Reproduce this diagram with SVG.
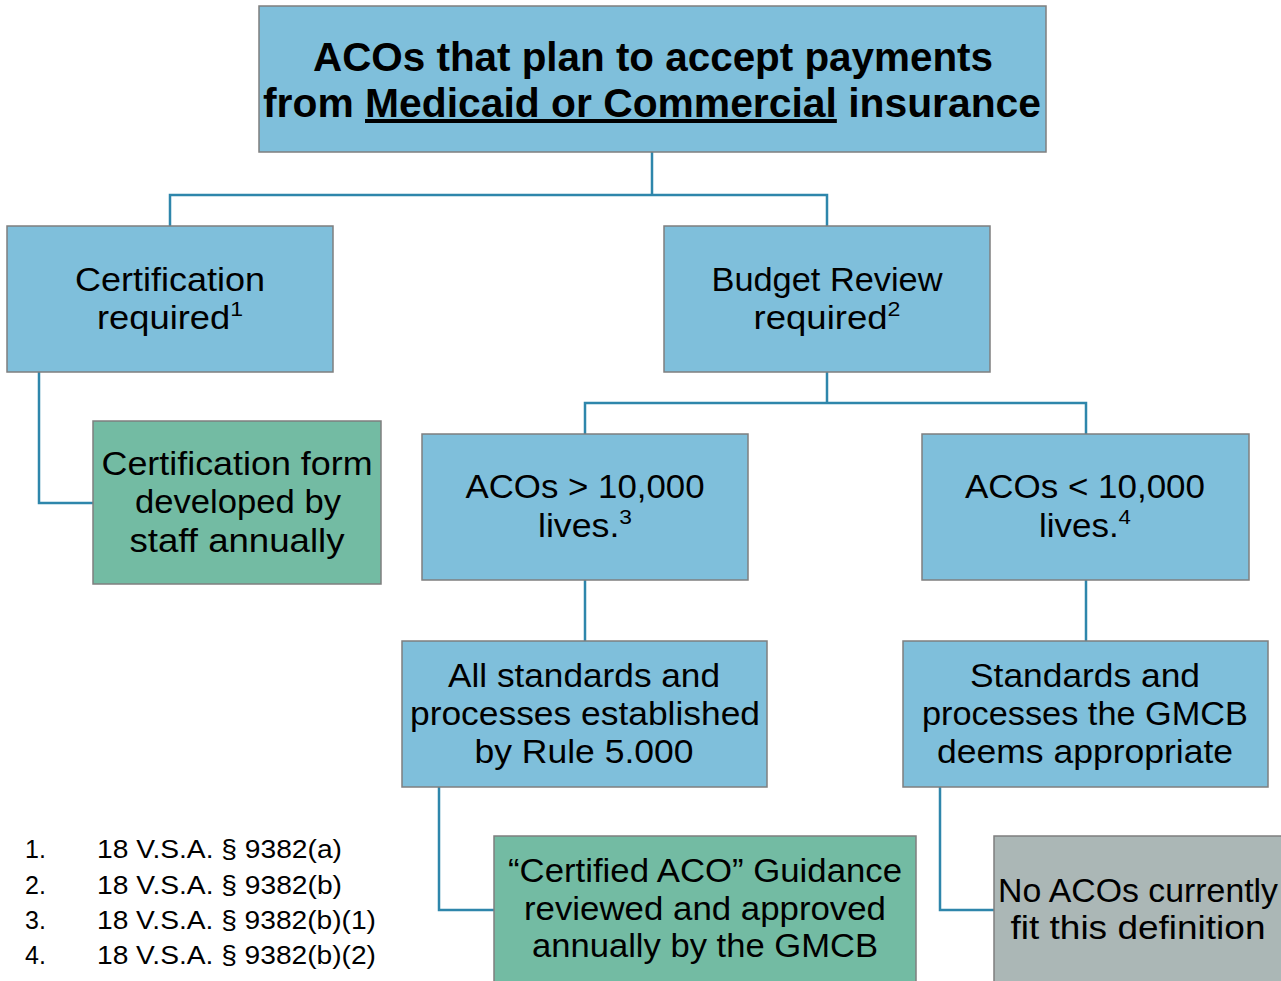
<svg xmlns="http://www.w3.org/2000/svg" width="1281" height="981" viewBox="0 0 1281 981">
<style>
.box{stroke:#7f7f7f;stroke-width:1.5}
.blue{fill:#7fbfdb}
.green{fill:#73bba3}
.gray{fill:#abb7b6}
.t{font-family:"Liberation Sans",Arial,sans-serif;font-size:33px;fill:#000;text-anchor:middle}
.title{font-family:"Liberation Sans",Arial,sans-serif;font-size:40px;font-weight:bold;fill:#000;text-anchor:middle}
.fn{font-family:"Liberation Sans",Arial,sans-serif;font-size:25px;fill:#000}
.sup{font-size:21px}
.conn{fill:none;stroke:#2e86ab;stroke-width:2.5}
</style>
<rect width="1281" height="981" fill="#fff"/>
<g id="connectors" class="conn">
<path d="M652,152 V195"/>
<path d="M170,226 V195 H827 V226"/>
<path d="M39,372 V503 H93"/>
<path d="M827,372 V403"/>
<path d="M585,434 V403 H1086 V434"/>
<path d="M585,580 V641"/>
<path d="M1086,580 V641"/>
<path d="M439,787 V910 H494"/>
<path d="M940,787 V910 H994"/>
</g>
<g id="root">
<rect class="box blue" x="259" y="6" width="787" height="146"/>
<text class="title" x="653" y="71" textLength="680" lengthAdjust="spacingAndGlyphs">ACOs that plan to accept payments</text>
<text class="title" x="652" y="117" textLength="778" lengthAdjust="spacingAndGlyphs">from <tspan text-decoration="underline">Medicaid or Commercial</tspan> insurance</text>
</g>
<g id="certification">
<rect class="box blue" x="7" y="226" width="326" height="146"/>
<text class="t" x="170" y="291" textLength="190" lengthAdjust="spacingAndGlyphs">Certification</text>
<text class="t" x="170" y="329" textLength="146" lengthAdjust="spacingAndGlyphs">required<tspan class="sup" dy="-13">1</tspan></text>
</g>
<g id="budget">
<rect class="box blue" x="664" y="226" width="326" height="146"/>
<text class="t" x="827" y="291" textLength="231" lengthAdjust="spacingAndGlyphs">Budget Review</text>
<text class="t" x="827" y="329" textLength="147" lengthAdjust="spacingAndGlyphs">required<tspan class="sup" dy="-13">2</tspan></text>
</g>
<g id="certform">
<rect class="box green" x="93" y="421" width="288" height="163"/>
<text class="t" x="237" y="475" textLength="271" lengthAdjust="spacingAndGlyphs">Certification form</text>
<text class="t" x="238" y="513" textLength="206" lengthAdjust="spacingAndGlyphs">developed by</text>
<text class="t" x="237" y="552" textLength="215" lengthAdjust="spacingAndGlyphs">staff annually</text>
</g>
<g id="large">
<rect class="box blue" x="422" y="434" width="326" height="146"/>
<text class="t" x="585" y="498" textLength="239" lengthAdjust="spacingAndGlyphs">ACOs &gt; 10,000</text>
<text class="t" x="585" y="537" textLength="94" lengthAdjust="spacingAndGlyphs">lives.<tspan class="sup" dy="-13">3</tspan></text>
</g>
<g id="small">
<rect class="box blue" x="922" y="434" width="327" height="146"/>
<text class="t" x="1085" y="498" textLength="240" lengthAdjust="spacingAndGlyphs">ACOs &lt; 10,000</text>
<text class="t" x="1085" y="537" textLength="92" lengthAdjust="spacingAndGlyphs">lives.<tspan class="sup" dy="-13">4</tspan></text>
</g>
<g id="allstandards">
<rect class="box blue" x="402" y="641" width="365" height="146"/>
<text class="t" x="584" y="687" textLength="272" lengthAdjust="spacingAndGlyphs">All standards and</text>
<text class="t" x="585" y="725" textLength="350" lengthAdjust="spacingAndGlyphs">processes established</text>
<text class="t" x="584" y="763" textLength="219" lengthAdjust="spacingAndGlyphs">by Rule 5.000</text>
</g>
<g id="standards">
<rect class="box blue" x="903" y="641" width="365" height="146"/>
<text class="t" x="1085" y="687" textLength="230" lengthAdjust="spacingAndGlyphs">Standards and</text>
<text class="t" x="1085" y="725" textLength="326" lengthAdjust="spacingAndGlyphs">processes the GMCB</text>
<text class="t" x="1085" y="763" textLength="296" lengthAdjust="spacingAndGlyphs">deems appropriate</text>
</g>
<g id="guidance">
<rect class="box green" x="494" y="836" width="422" height="160"/>
<text class="t" x="705" y="882" textLength="394" lengthAdjust="spacingAndGlyphs">“Certified ACO” Guidance</text>
<text class="t" x="705" y="920" textLength="362" lengthAdjust="spacingAndGlyphs">reviewed and approved</text>
<text class="t" x="705" y="957" textLength="346" lengthAdjust="spacingAndGlyphs">annually by the GMCB</text>
</g>
<g id="noacos">
<rect class="box gray" x="994" y="836" width="300" height="160"/>
<text class="t" x="1138" y="902" textLength="280" lengthAdjust="spacingAndGlyphs">No ACOs currently</text>
<text class="t" x="1138" y="939" textLength="255" lengthAdjust="spacingAndGlyphs">fit this definition</text>
</g>
<g id="footnotes" class="fn">
<text x="25" y="858">1.</text><text x="97" y="858" textLength="245" lengthAdjust="spacingAndGlyphs">18 V.S.A. § 9382(a)</text>
<text x="25" y="894">2.</text><text x="97" y="894" textLength="245" lengthAdjust="spacingAndGlyphs">18 V.S.A. § 9382(b)</text>
<text x="25" y="929">3.</text><text x="97" y="929" textLength="279" lengthAdjust="spacingAndGlyphs">18 V.S.A. § 9382(b)(1)</text>
<text x="25" y="964">4.</text><text x="97" y="964" textLength="279" lengthAdjust="spacingAndGlyphs">18 V.S.A. § 9382(b)(2)</text>
</g>
</svg>
